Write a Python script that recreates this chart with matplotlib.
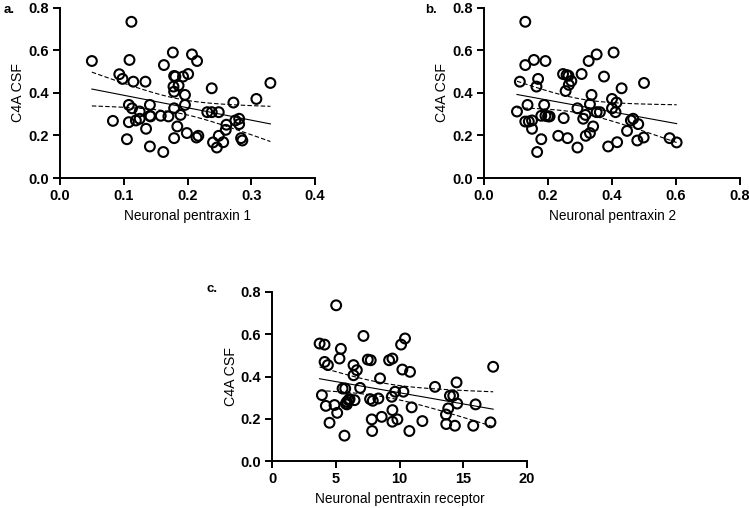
import numpy as np
import matplotlib.pyplot as plt

plt.rcParams['font.family'] = ['Liberation Sans', 'DejaVu Sans']

# C4A CSF values with matching predictor values
npx1 = [0.050, 0.112, 0.083, 0.093, 0.098, 0.109, 0.115, 0.108, 0.113, 0.108,
        0.105, 0.119, 0.125, 0.125, 0.134, 0.135, 0.141, 0.141, 0.142, 0.141,
        0.162, 0.158, 0.170, 0.163, 0.177, 0.178, 0.179, 0.179, 0.181, 0.186,
        0.179, 0.179, 0.184, 0.189, 0.193, 0.201, 0.196, 0.196, 0.199, 0.207,
        0.215, 0.214, 0.217, 0.231, 0.238, 0.238, 0.240, 0.246, 0.249, 0.249,
        0.256, 0.260, 0.261, 0.272, 0.275, 0.281, 0.281, 0.284, 0.286, 0.308,
        0.330]
c4a_1 = [0.549, 0.733, 0.268, 0.487, 0.465, 0.554, 0.452, 0.343, 0.327, 0.262,
         0.182, 0.270, 0.312, 0.278, 0.452, 0.231, 0.343, 0.292, 0.289, 0.148,
         0.122, 0.292, 0.289, 0.530, 0.589, 0.429, 0.405, 0.479, 0.476, 0.434,
         0.327, 0.187, 0.242, 0.296, 0.476, 0.488, 0.390, 0.343, 0.211, 0.580,
         0.549, 0.190, 0.198, 0.309, 0.309, 0.421, 0.167, 0.143, 0.198, 0.309,
         0.168, 0.226, 0.250, 0.354, 0.270, 0.278, 0.253, 0.187, 0.176, 0.371,
         0.446]

npx2 = [0.103, 0.112, 0.129, 0.129, 0.129, 0.136, 0.140, 0.150, 0.150, 0.156,
        0.164, 0.166, 0.169, 0.179, 0.179, 0.188, 0.192, 0.192, 0.200, 0.205,
        0.232, 0.247, 0.249, 0.255, 0.261, 0.258, 0.264, 0.265, 0.273, 0.292,
        0.292, 0.305, 0.310, 0.317, 0.318, 0.327, 0.331, 0.331, 0.336, 0.341,
        0.352, 0.352, 0.362, 0.375, 0.388, 0.400, 0.400, 0.405, 0.411, 0.414,
        0.416, 0.430, 0.447, 0.459, 0.466, 0.479, 0.482, 0.499, 0.500, 0.580,
        0.602]
c4a_2 = [0.312, 0.452, 0.733, 0.530, 0.265, 0.343, 0.265, 0.270, 0.231, 0.554,
         0.429, 0.122, 0.465, 0.182, 0.292, 0.343, 0.549, 0.292, 0.289, 0.289,
         0.198, 0.488, 0.281, 0.408, 0.187, 0.483, 0.480, 0.437, 0.455, 0.143,
         0.327, 0.488, 0.278, 0.296, 0.198, 0.549, 0.211, 0.346, 0.390, 0.242,
         0.580, 0.309, 0.309, 0.476, 0.148, 0.327, 0.371, 0.589, 0.309, 0.354,
         0.168, 0.421, 0.221, 0.270, 0.278, 0.176, 0.253, 0.190, 0.446, 0.187,
         0.167]

nptxr = [3.73, 3.91, 4.12, 4.12, 4.22, 4.38, 4.51, 4.90, 5.03, 5.11,
         5.29, 5.40, 5.53, 5.74, 5.68, 5.79, 5.87, 5.87, 6.00, 6.08,
         6.39, 6.39, 6.47, 6.65, 6.91, 7.17, 7.51, 7.69, 7.74, 7.85,
         7.82, 7.90, 8.34, 8.47, 8.60, 9.18, 9.44, 9.39, 9.44, 9.44,
         9.65, 9.83, 10.12, 10.22, 10.30, 10.43, 10.77, 10.82, 10.95, 11.79,
         12.78, 13.64, 13.66, 13.82, 13.95, 14.21, 14.34, 14.47, 14.52, 15.78,
         15.96, 17.13, 17.34]
c4a_3 = [0.556, 0.312, 0.551, 0.469, 0.261, 0.454, 0.181, 0.265, 0.737, 0.228,
         0.485, 0.531, 0.343, 0.343, 0.120, 0.272, 0.268, 0.280, 0.288, 0.293,
         0.454, 0.406, 0.288, 0.430, 0.346, 0.592, 0.480, 0.293, 0.477, 0.142,
         0.197, 0.285, 0.296, 0.391, 0.209, 0.477, 0.485, 0.304, 0.241, 0.186,
         0.328, 0.197, 0.551, 0.433, 0.328, 0.580, 0.142, 0.422, 0.254, 0.189,
         0.351, 0.220, 0.175, 0.249, 0.309, 0.309, 0.167, 0.372, 0.272, 0.167,
         0.268, 0.183, 0.446]

panels = [
    ('a.', npx1, c4a_1, 'Neuronal pentraxin 1', [0.0, 0.1, 0.2, 0.3, 0.4], '%.1f'),
    ('b.', npx2, c4a_2, 'Neuronal pentraxin 2', [0.0, 0.2, 0.4, 0.6, 0.8], '%.1f'),
    ('c.', nptxr, c4a_3, 'Neuronal pentraxin receptor', [0, 5, 10, 15, 20], '%d'),
]
y_ticks = [0.0, 0.2, 0.4, 0.6, 0.8]

positions = [
    [0.0801, 0.6496, 0.3405, 0.3356],
    [0.6462, 0.6496, 0.3418, 0.3356],
    [0.3632, 0.0925, 0.3405, 0.3327],
]
letter_pos = [(0.005, 0.975), (0.567, 0.975), (0.276, 0.425)]


def fit_band(x, y):
    '''Linear fit with 95% confidence band of the mean.'''
    x = np.asarray(x)
    y = np.asarray(y)
    n = len(x)
    slope, icpt = np.polyfit(x, y, 1)
    resid = y - (slope * x + icpt)
    s = np.sqrt(np.sum(resid ** 2) / (n - 2))
    xs = np.linspace(x.min(), x.max(), 100)
    ys = slope * xs + icpt
    se = s * np.sqrt(1 / n + (xs - x.mean()) ** 2 / np.sum((x - x.mean()) ** 2))
    t = 2.0
    return xs, ys, ys - t * se, ys + t * se


fig = plt.figure(figsize=(7.49, 5.08), dpi=100)

for (letter, xv, yv, xlabel, xt, fmt), pos, lp in zip(panels, positions, letter_pos):
    ax = fig.add_axes(pos)
    ax.scatter(xv, yv, s=50, facecolors='none', edgecolors='black',
               linewidths=1.5, zorder=3)
    xs, ys, lo, hi = fit_band(xv, yv)
    ax.plot(xs, ys, color='black', lw=0.8)
    ax.plot(xs, lo, color='black', lw=0.8, ls=(0, (4, 2)))
    ax.plot(xs, hi, color='black', lw=0.8, ls=(0, (4, 2)))

    ax.set_xlim(xt[0], xt[-1])
    ax.set_ylim(0, 0.8)
    ax.set_xticks(xt)
    ax.set_yticks(y_ticks)
    ax.set_xticklabels([fmt % v for v in xt], fontweight='bold', fontsize=10.5)
    ax.set_yticklabels(['%.1f' % v for v in y_ticks], fontweight='bold', fontsize=10.5)
    ax.set_xlabel(xlabel, fontsize=9.8, labelpad=4)
    ax.set_ylabel('C4A CSF', fontsize=10.2, labelpad=2)
    for side in ['top', 'right']:
        ax.spines[side].set_visible(False)
    for side in ['left', 'bottom']:
        ax.spines[side].set_linewidth(1.4)
    ax.tick_params(width=1.4, length=5, direction='out', pad=3)

    fig.text(lp[0], lp[1], letter, fontweight='bold', fontsize=9.5)

plt.savefig('out.png', dpi=100)
